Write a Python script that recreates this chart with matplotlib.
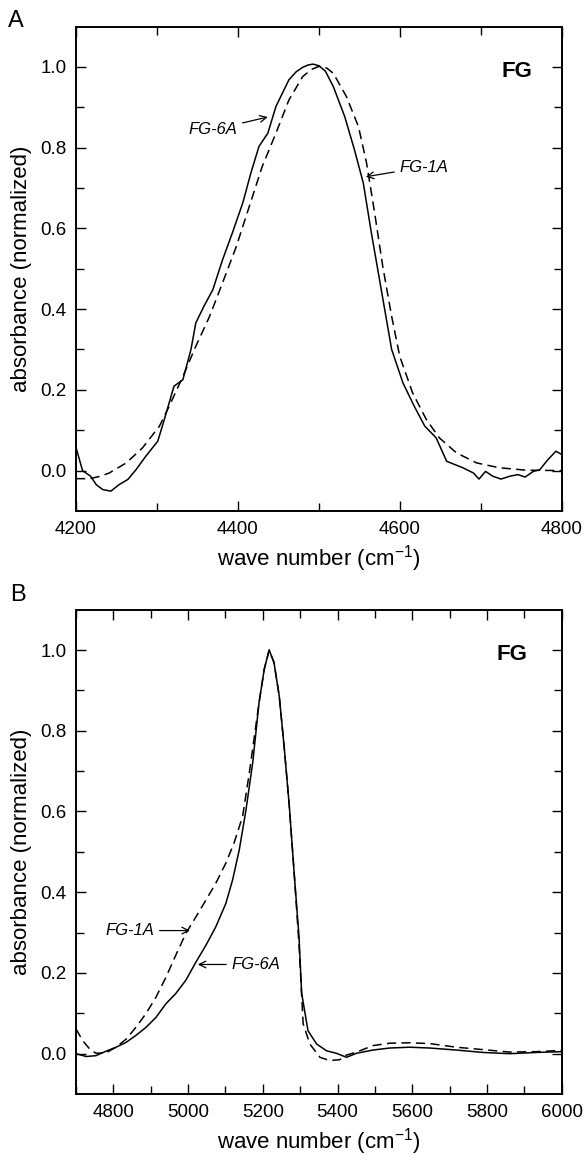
import numpy as np
import matplotlib
matplotlib.use('Agg')
import matplotlib.pyplot as plt
from matplotlib.ticker import MultipleLocator, FormatStrFormatter

plt.rcParams['font.family'] = ['Liberation Sans', 'DejaVu Sans']

# panel A, FG-6A (solid)
a6_x = [4200, 4208, 4218, 4225, 4233, 4243, 4253, 4264, 4274, 4286, 4301, 4309,
        4321, 4332, 4342, 4348, 4358, 4369, 4381, 4393, 4406, 4416, 4426, 4437,
        4447, 4463, 4472, 4480, 4487, 4493, 4500, 4508, 4518, 4532, 4544, 4555,
        4565, 4575, 4590, 4604, 4618, 4631, 4645, 4658, 4678, 4691, 4698, 4706,
        4715, 4725, 4736, 4746, 4755, 4765, 4773, 4783, 4793, 4800]
a6_y = [0.057, 0.0, -0.014, -0.035, -0.047, -0.051, -0.035, -0.022, 0.002, 0.035,
        0.073, 0.126, 0.209, 0.225, 0.30, 0.366, 0.407, 0.448, 0.522, 0.588,
        0.663, 0.737, 0.803, 0.836, 0.902, 0.968, 0.988, 0.999, 1.005, 1.007,
        1.003, 0.990, 0.951, 0.877, 0.795, 0.712, 0.588, 0.473, 0.30, 0.217,
        0.159, 0.110, 0.081, 0.023, 0.007, -0.006, -0.021, -0.002, -0.014,
        -0.021, -0.014, -0.010, -0.016, -0.002, 0.002, 0.027, 0.048, 0.040]

# panel A, FG-1A (dashed)
a1_x = [4200, 4217, 4230, 4241, 4262, 4282, 4303, 4315, 4332, 4348, 4365, 4381,
        4398, 4414, 4430, 4447, 4463, 4480, 4491, 4501, 4510, 4518, 4534, 4549,
        4559, 4569, 4579, 4590, 4600, 4616, 4633, 4649, 4670, 4695, 4723, 4756,
        4800]
a1_y = [-0.020, -0.020, -0.014, -0.006, 0.019, 0.056, 0.110, 0.159, 0.233, 0.308,
        0.382, 0.465, 0.555, 0.654, 0.753, 0.836, 0.918, 0.976, 0.994, 1.002,
        0.997, 0.984, 0.927, 0.852, 0.762, 0.638, 0.506, 0.382, 0.283, 0.192,
        0.126, 0.081, 0.044, 0.019, 0.007, 0.001, 0.0]

# panel B, FG-6A (solid)
b6_x = [4700, 4727, 4753, 4780, 4807, 4834, 4860, 4887, 4914, 4941, 4967, 4994,
        5021, 5048, 5074, 5101, 5119, 5137, 5155, 5173, 5190, 5204, 5217, 5230,
        5244, 5257, 5271, 5284, 5297, 5304, 5321, 5344, 5371, 5397, 5424, 5451,
        5495, 5540, 5593, 5647, 5718, 5790, 5861, 5932, 6000]
b6_y = [0.0, -0.007, -0.005, 0.006, 0.016, 0.028, 0.045, 0.065, 0.090, 0.124,
        0.149, 0.182, 0.227, 0.269, 0.314, 0.372, 0.430, 0.505, 0.604, 0.721,
        0.870, 0.953, 1.0, 0.969, 0.886, 0.762, 0.613, 0.447, 0.289, 0.150,
        0.057, 0.024, 0.007, 0.001, -0.009, 0.001, 0.009, 0.014, 0.016, 0.014,
        0.009, 0.003, 0.0, 0.003, 0.005]

# panel B, FG-1A (dashed)
b1_x = [4700, 4718, 4736, 4753, 4780, 4807, 4834, 4860, 4887, 4914, 4941, 4967,
        4994, 5021, 5048, 5074, 5101, 5123, 5146, 5164, 5190, 5204, 5217, 5230,
        5244, 5257, 5271, 5284, 5297, 5308, 5326, 5353, 5379, 5406, 5419, 5451,
        5495, 5540, 5593, 5647, 5718, 5790, 5861, 5932, 6000]
b1_y = [0.061, 0.032, 0.012, 0.001, 0.002, 0.016, 0.036, 0.065, 0.099, 0.140,
        0.190, 0.244, 0.298, 0.339, 0.381, 0.422, 0.472, 0.522, 0.588, 0.696,
        0.870, 0.953, 1.0, 0.969, 0.886, 0.762, 0.613, 0.447, 0.270, 0.074,
        0.024, -0.009, -0.017, -0.015, -0.005, 0.004, 0.020, 0.026, 0.027, 0.025,
        0.016, 0.010, 0.004, 0.005, 0.008]

fig = plt.figure(figsize=(5.85, 11.56), dpi=100)
ax_a = fig.add_axes([0.130, 0.558, 0.830, 0.419])
ax_b = fig.add_axes([0.130, 0.0536, 0.830, 0.419])

dash = (6, 3.5)
ax_a.plot(a6_x, a6_y, color='black', lw=1.1)
ax_a.plot(a1_x, a1_y, color='black', lw=1.1, dashes=dash)
ax_b.plot(b6_x, b6_y, color='black', lw=1.1)
ax_b.plot(b1_x, b1_y, color='black', lw=1.1, dashes=dash)

ax_a.set_xlim(4200, 4800)
ax_b.set_xlim(4700, 6000)

for ax in (ax_a, ax_b):
    ax.set_ylim(-0.1, 1.1)
    ax.xaxis.set_major_locator(MultipleLocator(200))
    ax.xaxis.set_minor_locator(MultipleLocator(100))
    ax.set_yticks([0.0, 0.2, 0.4, 0.6, 0.8, 1.0])
    ax.set_yticks([0.1, 0.3, 0.5, 0.7, 0.9], minor=True)
    ax.yaxis.set_major_formatter(FormatStrFormatter('%.1f'))
    ax.tick_params(which='both', direction='in', top=True, right=True,
                   width=1.0, labelsize=13.5, pad=7)
    ax.tick_params(which='major', length=7.5)
    ax.tick_params(which='minor', length=5.5)
    for sp in ax.spines.values():
        sp.set_linewidth(1.4)
    ax.set_xlabel('wave number (cm$^{\\mathregular{-1}}$)', fontsize=16, labelpad=4)
    ax.set_ylabel('absorbance (normalized)', fontsize=16, labelpad=6)

# "FG" tag, upper right
ax_a.text(0.94, 0.908, 'FG', transform=ax_a.transAxes,
          fontsize=16, fontweight='bold', ha='right', va='center')
ax_b.text(0.93, 0.908, 'FG', transform=ax_b.transAxes,
          fontsize=16, fontweight='bold', ha='right', va='center')

arrow = dict(arrowstyle='->', color='black', lw=0.9, shrinkA=2, shrinkB=0)
ax_a.annotate('FG-6A', xy=(4437, 0.876), xytext=(4399, 0.844), fontsize=12,
              style='italic', ha='right', va='center', arrowprops=arrow)
ax_a.annotate('FG-1A', xy=(4558, 0.728), xytext=(4600, 0.752), fontsize=12,
              style='italic', ha='left', va='center', arrowprops=arrow)
ax_b.annotate('FG-1A', xy=(5005, 0.305), xytext=(4909, 0.305), fontsize=12,
              style='italic', ha='right', va='center', arrowprops=arrow)
ax_b.annotate('FG-6A', xy=(5026, 0.221), xytext=(5117, 0.221), fontsize=12,
              style='italic', ha='left', va='center', arrowprops=arrow)

fig.text(0.014, 0.982, 'A', fontsize=17, ha='left', va='center')
fig.text(0.017, 0.485, 'B', fontsize=17, ha='left', va='center')

fig.savefig('out.png', dpi=100)
